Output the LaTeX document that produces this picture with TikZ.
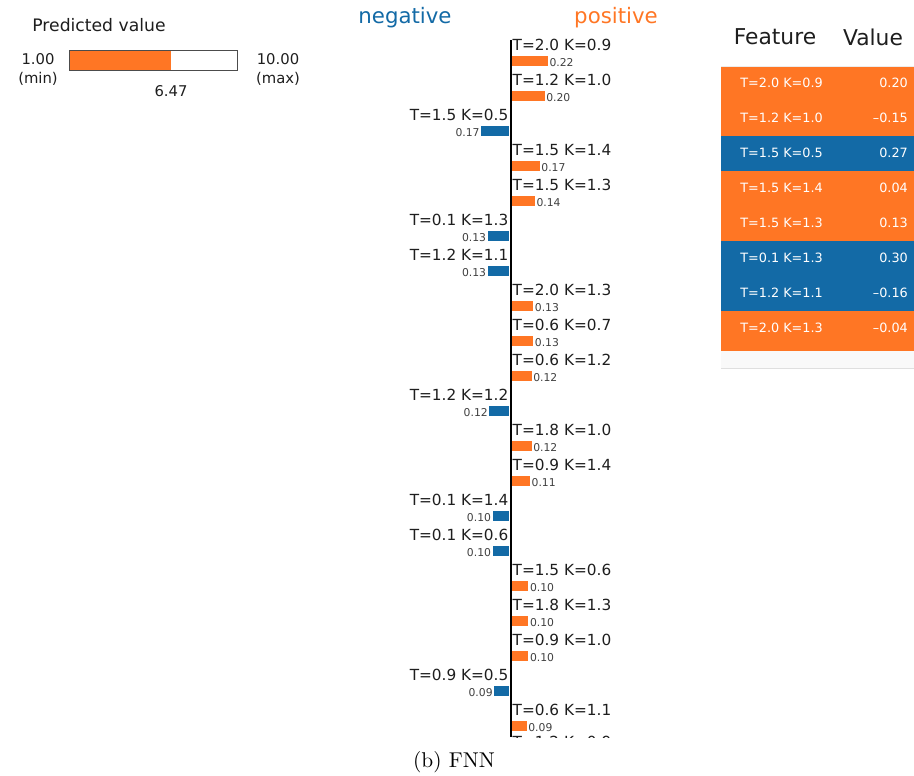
\documentclass[tikz,border=0pt]{standalone}
\usepackage{fontspec}
\newfontfamily\sans{DejaVu Sans}
\definecolor{posc}{RGB}{255,118,36}
\definecolor{negc}{RGB}{19,106,166}
\definecolor{txt}{RGB}{30,30,30}
\tikzset{
  lbl/.style={inner sep=0pt,text=txt,font=\sans\fontsize{15.3}{16}\selectfont},
  small/.style={inner sep=0pt,text=txt!85,font=\sans\fontsize{10.8}{11}\selectfont},
  cell/.style={inner sep=0pt,text=white,font=\sans\fontsize{12.8}{14}\selectfont},
  head/.style={inner sep=0pt,text=txt,font=\sans\fontsize{21.8}{24}\selectfont},
  pvtxt/.style={inner sep=0pt,text=txt,font=\sans\fontsize{14.8}{16}\selectfont},
}
\begin{document}
\begin{tikzpicture}[x=1pt,y=-1pt]
\useasboundingbox (0,0) rectangle (914,776);
% predicted value
\node[pvtxt,font=\sans\fontsize{17.2}{19}\selectfont] (pv) at (99,25) {Predicted value};
\fill[posc] (69,50) rectangle (171,70);
\draw[gray!60!black,line width=0.8pt] (69,50) rectangle (237,70);
\node[pvtxt] (mn) at (38,59) {1.00};
\node[pvtxt] (mnl) at (38,79) {(min)};
\node[pvtxt] (mx) at (278,59) {10.00};
\node[pvtxt] (mxl) at (278,79) {(max)};
\node[pvtxt] (pvv) at (171,91) {6.47};
% titles
\node[inner sep=0pt,text=negc,font=\sans\fontsize{21.3}{24}\selectfont] (negt) at (405,18) {negative};
\node[inner sep=0pt,text=posc,font=\sans\fontsize{21.3}{24}\selectfont] (post) at (616,18) {positive};
% bars
\foreach \lab/\s/\v [count=\i from 0] in {
 T=2.0 K=0.9/1/0.22, T=1.2 K=1.0/1/0.20, T=1.5 K=0.5/0/0.17, T=1.5 K=1.4/1/0.17,
 T=1.5 K=1.3/1/0.14, T=0.1 K=1.3/0/0.13, T=1.2 K=1.1/0/0.13, T=2.0 K=1.3/1/0.13,
 T=0.6 K=0.7/1/0.13, T=0.6 K=1.2/1/0.12, T=1.2 K=1.2/0/0.12, T=1.8 K=1.0/1/0.12,
 T=0.9 K=1.4/1/0.11, T=0.1 K=1.4/0/0.10, T=0.1 K=0.6/0/0.10, T=1.5 K=0.6/1/0.10,
 T=1.8 K=1.3/1/0.10, T=0.9 K=1.0/1/0.10, T=0.9 K=0.5/0/0.09, T=0.6 K=1.1/1/0.09}{
  \pgfmathsetmacro\yl{45+35*\i}
  \pgfmathsetmacro\yb{61+35*\i}
  \pgfmathsetmacro\w{\v*163}
  \ifnum\s=1
    \fill[posc] (512,\yb-5) rectangle (512+\w,\yb+5);
    \node[lbl,anchor=west] (lab\i) at (512.5,\yl) {\lab};
    \node[small,anchor=west] (val\i) at (513.5+\w,\yb+2) {\v};
  \else
    \fill[negc] (509,\yb-5) rectangle (509-\w,\yb+5);
    \node[lbl,anchor=east] (lab\i) at (508.5,\yl) {\lab};
    \node[small,anchor=east] (val\i) at (507.5-\w,\yb+2) {\v};
  \fi
}
\begin{scope}
\clip (400,700) rectangle (700,737.5);
\node[lbl,anchor=west] (lab20) at (512.5,741.5) {T=1.2 K=0.9};
\end{scope}
\draw[line width=2pt,black] (510.5,40) -- (510.5,737);
% table
\node[head] (hf) at (775,37) {Feature};
\node[head] (hv) at (873,37) {Value};
\fill[posc] (721,66) rectangle (914,136);
\fill[negc] (721,136) rectangle (914,171);
\fill[posc] (721,171) rectangle (914,241);
\fill[negc] (721,241) rectangle (914,311);
\fill[posc] (721,311) rectangle (914,351);
\fill[gray!5] (721,351) rectangle (914,368);
\draw[gray!25,line width=0.6pt] (721,368) -- (914,368);
\draw[gray!15,line width=0.6pt] (721,66) -- (914,66);
\foreach \f/\vv [count=\i from 0] in {T=2.0 K=0.9/0.20, T=1.2 K=1.0/{\textendash0.15}, T=1.5 K=0.5/0.27,
  T=1.5 K=1.4/0.04, T=1.5 K=1.3/0.13, T=0.1 K=1.3/0.30, T=1.2 K=1.1/{\textendash0.16}, T=2.0 K=1.3/{\textendash0.04}}{
  \pgfmathsetmacro\yt{83+35*\i}
  \node[cell,anchor=east] (tf\i) at (823,\yt) {\f};
  \node[cell,anchor=east] (tv\i) at (908,\yt) {\vv};
}
% caption
\node[inner sep=0pt] (cap) at (454,762) {\scalebox{2.14}{\fontsize{10}{12}\selectfont (b)~FNN}};
\end{tikzpicture}
\end{document}
